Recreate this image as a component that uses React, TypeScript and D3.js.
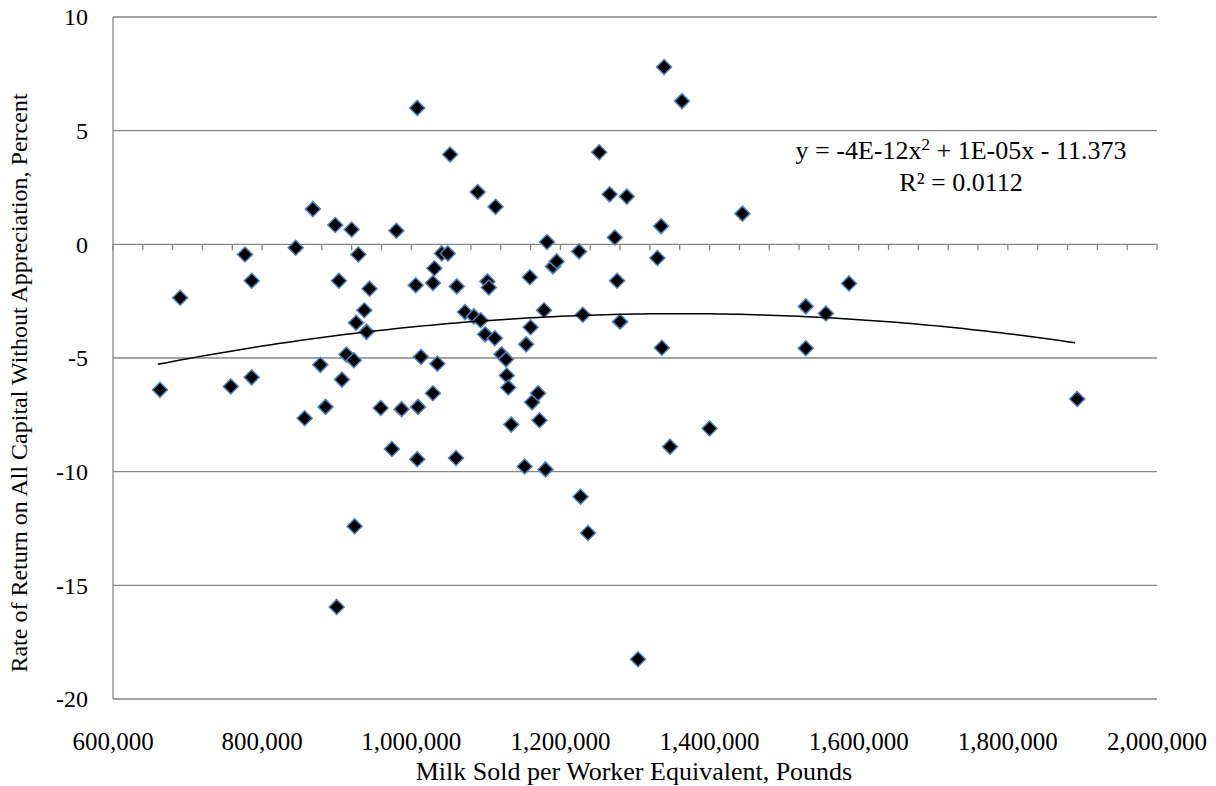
import React from "react";
import * as d3 from "d3";

const milkSold: number[] = [663000,690000,758000,777000,786000,786000,845000,857000,868000,878000,885000,898000,900000,903000,907000,913000,920000,923000,924000,926000,929000,937000,940000,944000,959000,974000,980000,987000,1006000,1008000,1008000,1009000,1013000,1029000,1029000,1031000,1035000,1041000,1049000,1052000,1060000,1061000,1072000,1084000,1089000,1093000,1099000,1102000,1104000,1112000,1113000,1121000,1127000,1128000,1130000,1134000,1152000,1154000,1159000,1160000,1162000,1170000,1172000,1178000,1180000,1182000,1190000,1195000,1225000,1227000,1230000,1237000,1252000,1266000,1273000,1276000,1280000,1289000,1304000,1330000,1335000,1336000,1339000,1347000,1363000,1400000,1444000,1529000,1529000,1556000,1587000,1893000];
const returnPct: number[] = [-6.4,-2.35,-6.25,-0.45,-1.6,-5.85,-0.15,-7.65,1.55,-5.3,-7.15,0.85,-15.95,-1.6,-5.95,-4.85,0.65,-5.1,-12.4,-3.45,-0.45,-2.9,-3.85,-1.95,-7.2,-9.0,0.6,-7.25,-1.8,6.0,-9.45,-7.15,-4.95,-1.7,-6.55,-1.05,-5.25,-0.4,-0.4,3.95,-9.4,-1.85,-2.98,-3.17,2.3,-3.34,-3.96,-1.63,-1.9,-4.13,1.65,-4.84,-5.06,-5.77,-6.3,-7.93,-9.77,-4.4,-1.45,-3.65,-6.95,-6.55,-7.74,-2.9,-9.9,0.1,-0.97,-0.75,-0.31,-11.1,-3.1,-12.7,4.05,2.2,0.3,-1.6,-3.4,2.1,-18.25,-0.6,0.8,-4.55,7.8,-8.9,6.3,-8.1,1.35,-2.73,-4.57,-3.04,-1.72,-6.8];

const xTicks = [600000, 800000, 1000000, 1200000, 1400000, 1600000, 1800000, 2000000];
const yTicks = [-20, -15, -10, -5, 0, 5, 10];
const trend = { a: -4.55e-12, vertex: 1360000, yv: -3.05, x0: 660000, x1: 1890000 };

export default function App() {
  const left = 113, right = 1157, top = 17, bottom = 699;
  const x = d3.scaleLinear().domain([600000, 2000000]).range([left, right]);
  const y = d3.scaleLinear().domain([-20, 10]).range([bottom, top]);
  const fmt = d3.format(",");
  const minor = d3.range(600000, 2000001, 40000);
  const tx = d3.range(trend.x0, trend.x1 + 1, 10000);
  const line = d3.line<number>().x((v) => x(v)).y((v) => y(trend.a * (v - trend.vertex) ** 2 + trend.yv))(tx) || "";
  const font = "'Liberation Serif', 'Times New Roman', serif";
  const s = 7.5;
  return (
    <svg width={1216} height={786} style={{ position: "absolute", left: 0, top: 0 }} fontFamily={font}>
      <rect width={1216} height={786} fill="white" />
      {yTicks.map((t) => (
        <g key={t}>
          <line x1={left} x2={right} y1={y(t)} y2={y(t)} stroke="#868686" strokeWidth={1.3} />
          <text x={left - 25} y={y(t)} dy="0.35em" textAnchor="end" fontSize={24}>{t}</text>
        </g>
      ))}
      <line x1={left} x2={left} y1={top} y2={bottom} stroke="#868686" strokeWidth={1.3} />
      {minor.map((t) => (
        <line key={t} x1={x(t)} x2={x(t)} y1={y(0)} y2={y(0) + 6} stroke="#868686" strokeWidth={1.3} />
      ))}
      {xTicks.map((t) => (
        <text key={t} x={x(t)} y={750} textAnchor="middle" fontSize={25}>{fmt(t)}</text>
      ))}
      {milkSold.map((v, i) => {
        const cx = x(v), cy = y(returnPct[i]);
        return (
          <path key={i} d={`M${cx},${cy - s}L${cx + s},${cy}L${cx},${cy + s}L${cx - s},${cy}Z`} fill="black" stroke="#4F81BD" strokeWidth={1.5} />
        );
      })}
      <path d={line} fill="none" stroke="black" strokeWidth={1.5} />
      <text x={961} y={159} textAnchor="middle" fontSize={26}>
        y = -4E-12x<tspan dy={-9} fontSize={17}>2</tspan><tspan dy={9}> + 1E-05x - 11.373</tspan>
      </text>
      <text x={961} y={191} textAnchor="middle" fontSize={26}>R² = 0.0112</text>
      <text x={634} y={780} textAnchor="middle" fontSize={26}>Milk Sold per Worker Equivalent, Pounds</text>
      <text transform={`translate(27,${(top + bottom) / 2 + 25}) rotate(-90)`} textAnchor="middle" fontSize={24}>
        Rate of Return on All Capital Without Appreciation, Percent
      </text>
    </svg>
  );
}
